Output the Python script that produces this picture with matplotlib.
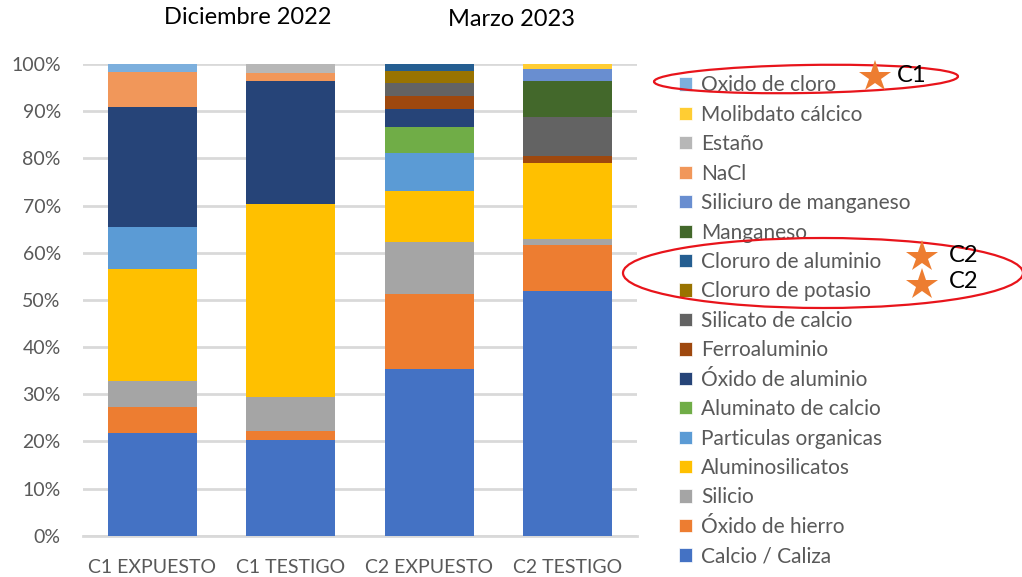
import numpy as np
import matplotlib.pyplot as plt
from matplotlib.patches import Ellipse, Patch

plt.rcParams['font.family'] = ['Lato', 'DejaVu Sans']

muestras = ['C1 EXPUESTO', 'C1 TESTIGO', 'C2 EXPUESTO', 'C2 TESTIGO']

# composicion (%) por muestra, de abajo hacia arriba en la pila
compuestos = ['Calcio / Caliza', 'Óxido de hierro', 'Silicio', 'Aluminosilicatos',
              'Particulas organicas', 'Aluminato de calcio', 'Óxido de aluminio',
              'Ferroaluminio', 'Silicato de calcio', 'Cloruro de potasio',
              'Cloruro de aluminio', 'Manganeso', 'Siliciuro de manganeso', 'NaCl',
              'Estaño', 'Molibdato cálcico', 'Oxido de cloro']

calcio          = [21.7, 20.3, 35.3, 51.9]
oxido_hierro    = [5.65, 1.9, 16.0, 9.7]
silicio         = [5.45, 7.3, 10.9, 1.3]
aluminosilicato = [23.7, 40.8, 10.9, 16.1]
part_organicas  = [8.9, 0.0, 8.1, 0.0]
aluminato_ca    = [0.0, 0.0, 5.4, 0.0]
oxido_aluminio  = [25.5, 26.2, 3.9, 0.0]
ferroaluminio   = [0.0, 0.0, 2.7, 1.4]
silicato_ca     = [0.0, 0.0, 2.7, 8.4]
cloruro_k       = [0.0, 0.0, 2.7, 0.0]
cloruro_al      = [0.0, 0.0, 1.4, 0.0]
manganeso       = [0.0, 0.0, 0.0, 7.7]
siliciuro_mn    = [0.0, 0.0, 0.0, 2.4]
nacl            = [7.45, 1.6, 0.0, 0.0]
estano          = [0.0, 1.9, 0.0, 0.0]
molibdato       = [0.0, 0.0, 0.0, 1.1]
oxido_cloro     = [1.6, 0.0, 0.0, 0.0]

series = [calcio, oxido_hierro, silicio, aluminosilicato, part_organicas, aluminato_ca,
          oxido_aluminio, ferroaluminio, silicato_ca, cloruro_k, cloruro_al, manganeso,
          siliciuro_mn, nacl, estano, molibdato, oxido_cloro]

colores = ['#4472C4', '#ED7D31', '#A5A5A5', '#FFC000', '#5B9BD5', '#70AD47', '#264478',
           '#9E480E', '#636363', '#997300', '#255E91', '#43682B', '#698ED0', '#F1975A',
           '#B7B7B7', '#FFCD33', '#7CAFDD']

gris = '#595959'

fig = plt.figure(figsize=(10.22, 5.77), dpi=100)
ax = fig.add_axes([83 / 1022, 41.3 / 577, 554 / 1022, 471.7 / 577])

x = np.arange(len(muestras))
base = np.zeros(len(muestras))
for nombre, vals, c in zip(compuestos, series, colores):
    vals = np.array(vals)
    ax.bar(x, vals, 0.64, bottom=base, color=c, label=nombre, zorder=3)
    base += vals

ax.set_xlim(-0.5, 3.5)
ax.set_ylim(0, 100)
ax.set_yticks(np.arange(0, 101, 10))
ax.set_yticklabels([f'{v}%' for v in range(0, 101, 10)])
ax.set_xticks(x)
ax.set_xticklabels(muestras)
ax.tick_params(length=0, labelsize=14, colors=gris)
ax.tick_params(axis='y', pad=16)
ax.tick_params(axis='x', pad=17)
ax.grid(axis='y', color='#D9D9D9', linewidth=2, zorder=0)
for s in ['top', 'right', 'left']:
    ax.spines[s].set_visible(False)
ax.spines['bottom'].set_color('#D9D9D9')
ax.spines['bottom'].set_linewidth(2)

# leyenda con los compuestos en orden inverso (el de arriba primero)
handles = [Patch(facecolor=c, edgecolor='white', linewidth=0.5) for c in colores][::-1]
leg = fig.legend(handles, compuestos[::-1], loc='upper left',
                 bbox_to_anchor=(671 / 1022, 1 - 67 / 577), frameon=False,
                 fontsize=15, labelcolor=gris, handlelength=0.6, handleheight=0.6,
                 handletextpad=0.45, labelspacing=0.453, borderaxespad=0)

# capa superior en pixeles para titulos y marcas
ov = fig.add_axes([0, 0, 1, 1], zorder=10)
ov.set_xlim(0, 1022)
ov.set_ylim(577, 0)
ov.axis('off')
ov.patch.set_alpha(0)

ov.text(248, 17, 'Diciembre 2022', fontsize=17, ha='center', va='center', color='black')
ov.text(511, 19, 'Marzo 2023', fontsize=17, ha='center', va='center', color='black')

ov.add_patch(Ellipse((806, 79), 304, 28, angle=-1, fill=False, edgecolor='#E8141B', linewidth=1.6))
ov.add_patch(Ellipse((823, 273), 400, 70, angle=0, fill=False, edgecolor='#E8141B', linewidth=1.6))

for (sx, sy), etiqueta, (tx, ty) in [((875, 77), 'C1', (897, 75)),
                                    ((922, 257), 'C2', (949, 256)),
                                    ((922, 285), 'C2', (949, 282))]:
    ov.plot(sx, sy, marker='*', markersize=24, color='#ED7D31', markeredgewidth=0)
    ov.text(tx, ty, etiqueta, fontsize=17, ha='left', va='center', color='black')

fig.savefig('out.png', dpi=100)
